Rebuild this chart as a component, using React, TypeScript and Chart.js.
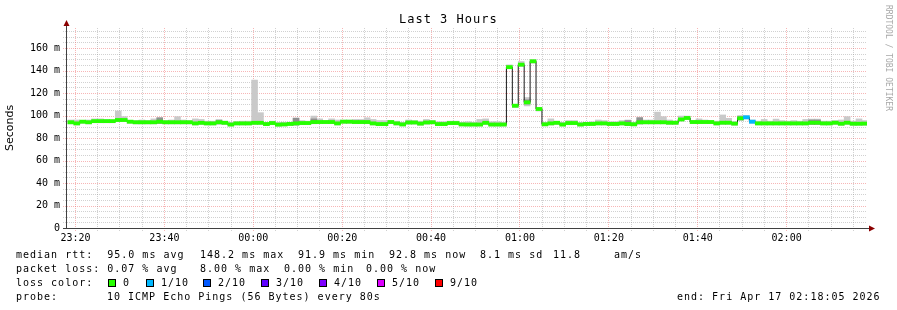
import { useEffect, useRef } from 'react';
import { Chart, registerables } from 'chart.js';

Chart.register(...registerables);

// ---------- texts ----------
const TITLE = 'Last 3 Hours';
const Y_AXIS_TITLE = 'Seconds';
const WATERMARK = 'RRDTOOL / TOBI OETIKER';
const END_TEXT = 'end: Fri Apr 17 02:18:05 2026';

// ---------- time axis ----------
const RANGE_START = '23:18:05';
const RANGE_SECONDS = 3 * 3600;
const STEP_SECONDS = 80;
const FIRST_STEP_OFFSET = 12;
const X_TICK_LABELS = ['23:20', '23:40', '00:00', '00:20', '00:40', '01:00', '01:20', '01:40', '02:00'];
const X_MINOR_SECONDS = 300;

// ---------- value axis (ms) ----------
const Y_MAX_MS = 177.78;
const Y_TICK_VALUES = [0, 20, 40, 60, 80, 100, 120, 140, 160];
const Y_MINOR_STEP = 5;

// ---------- series: median RTT per 80 s step (ms) ----------
const medianRtt = [
  94, 93, 94.5, 94, 95, 95, 95, 95, 96, 96,
  94.5, 94, 94, 94, 94, 94.5, 94, 94, 94, 94,
  94, 93, 93.5, 93, 93, 94, 93.5, 92, 93, 93,
  93, 93.5, 93.5, 92.4, 93.3, 91.9, 92.1, 92.5, 93, 93.3,
  93.3, 94.2, 94.2, 94.2, 94.2, 93, 94.5, 94.5, 94.2, 94.2,
  94.2, 93, 92.4, 92.4, 94.2, 93, 92.1, 93.8, 93.8, 92.8,
  93.8, 94, 92.4, 92.4, 93.3, 93.3, 92.1, 92, 92, 92,
  93.5, 92, 92, 92, 143, 108.7, 145.2, 111.7, 148.2, 105.8,
  92.2, 93, 93.5, 92, 93.3, 93.3, 92, 92.5, 92.5, 93,
  93, 92.5, 92.5, 93, 92.5, 92.2, 94, 94, 94, 94,
  94, 93.6, 93.6, 96.5, 97.8, 94.2, 94.2, 94.2, 94.2, 93,
  93.6, 93.6, 92.8, 97.5, 98.4, 94.5, 93, 93, 93, 93,
  93, 93, 93, 93, 93, 93.6, 93.6, 93, 93, 93.6,
  92.7, 93.6, 92.7, 92.7, 92.8,
];

// smoke: lowest and highest ping of each step (ms)
const smokeMin = [
  92.5, 91.5, 93, 92.5, 93.5, 93.5, 93.5, 93.5, 94.5, 94.5,
  93, 92.5, 92.5, 92.5, 92.5, 93, 92.5, 92.5, 92.5, 92.5,
  92.5, 91.5, 92, 91.5, 91.5, 92.5, 92, 90.5, 91.5, 91.5,
  91.5, 92, 92, 91, 91.8, 90.4, 90.6, 91, 91.5, 91.8,
  91.8, 92.7, 92.7, 92.7, 92.7, 91.5, 93, 93, 92.7, 92.7,
  92.7, 91.5, 90.9, 90.9, 92.7, 91.5, 90.6, 92.3, 92.3, 91.3,
  92.3, 92.5, 90.9, 90.9, 91.8, 91.8, 90.6, 90.5, 90.5, 90.5,
  92, 90.5, 90.5, 90.5, 141.5, 107, 143.5, 108.5, 146.5, 104,
  90.7, 91.5, 92, 90.5, 91.8, 91.8, 90.5, 91, 91, 91.5,
  91.5, 91, 91, 91.5, 91, 90.7, 92.5, 92.5, 92.5, 92.5,
  92.5, 92, 92, 95, 96.3, 92.7, 92.7, 92.7, 92.7, 91.5,
  92, 92, 91.3, 96, 96.9, 93, 91.5, 91.5, 91.5, 91.5,
  91.5, 91.5, 91.5, 91.5, 91.5, 92, 92, 91.5, 91.5, 92,
  91.2, 92, 91.2, 91.2, 91.3,
];
const smokeMax = [
  96, 96, 95.5, 96, 97, 97, 96.5, 96, 104, 99,
  95.5, 95.5, 96, 95.5, 97, 98, 95.5, 96, 99, 96,
  95.5, 97, 96.5, 95, 95, 96.5, 95, 94, 94.5, 95,
  95, 131.5, 102.5, 94, 95, 94, 94, 94, 98, 95.5,
  95, 99.5, 97, 95.5, 97, 96, 96, 96, 96.5, 96.5,
  98, 96.5, 95.5, 95.5, 95.5, 95, 94, 96, 95.5, 95,
  96.5, 95.5, 94.5, 94.5, 95, 95, 94, 94.5, 94, 96.5,
  97, 94.5, 94.5, 94, 145, 110, 148, 116, 149.5, 107,
  94, 97, 95, 94, 95.5, 95.5, 94, 94, 94.5, 96,
  95.5, 94.5, 94.5, 95.5, 96, 94, 98.5, 96, 96, 103,
  99, 96, 95, 99.5, 99.5, 95.5, 97, 96, 95.5, 95,
  100.5, 97.5, 94.5, 100, 100, 96, 95, 96.5, 95, 96.8,
  95.5, 95, 95.5, 95, 96.5, 96.8, 96.8, 95, 95, 95.5,
  96, 99, 95, 97, 95.5,
];
// darker (denser) smoke near the median, only where it shows
const smokeDarkStep = [15, 25, 38, 41, 77, 94, 96, 113, 125, 126];
const smokeDarkTop = [98, 95.5, 97.5, 97, 114, 95.5, 98, 99, 96, 96];

// packet loss (tenths) for the steps that lost packets
const lossStep = [114, 115];
const lossTenths = [1, 1];

// loss colour legend
const LOSS_LEVELS = [0, 1, 2, 3, 4, 5, 9];
const LOSS_LABELS = ['0', '1/10', '2/10', '3/10', '4/10', '5/10', '9/10'];
const LOSS_COLORS = ['#26ff00', '#00b8ff', '#0059ff', '#5e00ff', '#7e00ff', '#dd00ff', '#ff0000'];

// statistics text
const RTT_ITEMS = ['median rtt:  95.0 ms avg', '148.2 ms max', '91.9 ms min', '92.8 ms now', '8.1 ms sd', '11.8', 'am/s'];
const LOSS_ITEMS = ['packet loss: 0.07 % avg', '8.00 % max', '0.00 % min', '0.00 % now'];
const LOSS_COLOR_TITLE = 'loss color:';
const PROBE_ITEMS = ['probe:', '10 ICMP Echo Pings (56 Bytes) every 80s'];

// ---------- layout / style (not data) ----------
const W = 897;
const H = 310;
const RTT_X = [16, 200, 298, 389, 480, 553, 614];
const LOSS_X = [16, 200, 284, 366];
const PROBE_X = [16, 107];
const SQUARE_X = [108, 146, 203, 261, 319, 377, 435];
const LINE_Y = [258, 272, 286, 300];
const MONO = '"DejaVu Sans Mono", monospace';

const toSec = (t: string) => {
  const [h, m, s = '0'] = t.split(':');
  return Number(h) * 3600 + Number(m) * 60 + Number(s);
};
const START_SEC = toSec(RANGE_START);
const sinceStart = (t: string) => (toSec(t) - START_SEC + 86400) % 86400;
const xTickValues = X_TICK_LABELS.map(sinceStart);
const stepCenter = (k: number) => FIRST_STEP_OFFSET + STEP_SECONDS * k + STEP_SECONDS / 2;
const lossColorOf = (k: number) => {
  const i = lossStep.indexOf(k);
  const level = i >= 0 ? lossTenths[i] : 0;
  return LOSS_COLORS[LOSS_LEVELS.indexOf(level)];
};

const gridPlugin = {
  id: 'rrdGrid',
  beforeDatasetsDraw(chart: any) {
    const { ctx, chartArea, scales } = chart;
    const { left, right, top, bottom } = chartArea;
    const x = scales.x;
    const y = scales.y;
    ctx.save();
    ctx.lineWidth = 1;
    ctx.setLineDash([1, 1]);
    const minor = 'rgba(140,140,140,0.4)';
    const major = 'rgba(240,110,110,0.5)';
    for (let v = Y_MINOR_STEP; v <= Y_MAX_MS; v += Y_MINOR_STEP) {
      const py = Math.round(y.getPixelForValue(v)) + 0.5;
      ctx.strokeStyle = v % 20 === 0 ? major : minor;
      ctx.beginPath();
      ctx.moveTo(left - 4, py);
      ctx.lineTo(right, py);
      ctx.stroke();
    }
    const first = xTickValues[0] % X_MINOR_SECONDS;
    for (let t = first; t <= RANGE_SECONDS; t += X_MINOR_SECONDS) {
      const px = Math.floor(x.getPixelForValue(t)) + 0.5;
      const isMajor = xTickValues.includes(t);
      ctx.strokeStyle = isMajor ? major : minor;
      ctx.beginPath();
      ctx.moveTo(px, top);
      ctx.lineTo(px, bottom + 3);
      ctx.stroke();
    }
    ctx.restore();
  },
};

const textPlugin = {
  id: 'rrdText',
  afterDraw(chart: any) {
    const { ctx, chartArea } = chart;
    const { left, right, top, bottom } = chartArea;
    ctx.save();
    ctx.setLineDash([]);
    ctx.strokeStyle = '#404040';
    ctx.lineWidth = 1;
    ctx.beginPath();
    ctx.moveTo(left - 0.5, bottom + 1);
    ctx.lineTo(left - 0.5, top - 2);
    ctx.moveTo(left - 4, bottom + 0.5);
    ctx.lineTo(right + 2, bottom + 0.5);
    ctx.stroke();
    ctx.fillStyle = '#8b0000';
    ctx.beginPath();
    ctx.moveTo(left - 0.5, top - 8);
    ctx.lineTo(left - 3.5, top - 2);
    ctx.lineTo(left + 2.5, top - 2);
    ctx.closePath();
    ctx.fill();
    ctx.beginPath();
    ctx.moveTo(right + 8, bottom + 0.5);
    ctx.lineTo(right + 2, bottom - 2.5);
    ctx.lineTo(right + 2, bottom + 3.5);
    ctx.closePath();
    ctx.fill();

    ctx.fillStyle = '#000';
    try { (ctx as any).letterSpacing = '1px'; } catch (e) { /* ignore */ }
    ctx.font = `12px ${MONO}`;
    ctx.textAlign = 'left';
    ctx.textBaseline = 'alphabetic';
    ctx.fillText(TITLE, 399, 23);

    ctx.font = `10px ${MONO}`;
    RTT_ITEMS.forEach((s, i) => ctx.fillText(s, RTT_X[i], LINE_Y[0]));
    LOSS_ITEMS.forEach((s, i) => ctx.fillText(s, LOSS_X[i], LINE_Y[1]));
    ctx.fillText(LOSS_COLOR_TITLE, 16, LINE_Y[2]);
    LOSS_LABELS.forEach((s, i) => {
      ctx.fillStyle = LOSS_COLORS[i];
      ctx.fillRect(SQUARE_X[i], LINE_Y[2] - 7, 8, 8);
      ctx.strokeStyle = '#000';
      ctx.strokeRect(SQUARE_X[i] + 0.5, LINE_Y[2] - 6.5, 7, 7);
      ctx.fillStyle = '#000';
      ctx.fillText(s, SQUARE_X[i] + 15, LINE_Y[2]);
    });
    PROBE_ITEMS.forEach((s, i) => ctx.fillText(s, PROBE_X[i], LINE_Y[3]));
    ctx.fillText(END_TEXT, 677, LINE_Y[3]);

    try { (ctx as any).letterSpacing = '0px'; } catch (e) { /* ignore */ }
    ctx.translate(888, 5);
    ctx.rotate(Math.PI / 2);
    ctx.font = `8px ${MONO}`;
    ctx.fillStyle = '#a8a8a8';
    ctx.textBaseline = 'middle';
    ctx.fillText(WATERMARK, 0, 0);
    ctx.restore();
  },
};

export default function App() {
  const ref = useRef<HTMLCanvasElement | null>(null);

  useEffect(() => {
    const canvas = ref.current;
    if (!canvas) return;
    const barCommon = {
      type: 'bar' as const,
      grouped: false,
      barPercentage: 1,
      categoryPercentage: 1,
      borderWidth: 0,
    };
    const chart = new Chart(canvas, {
      type: 'bar',
      data: {
        datasets: [
          {
            ...barCommon,
            label: 'smoke',
            data: medianRtt.map((_, k) => ({ x: stepCenter(k), y: [smokeMin[k], smokeMax[k]] })),
            backgroundColor: '#c9c9c9',
            order: 5,
          },
          {
            ...barCommon,
            label: 'smoke dense',
            data: smokeDarkStep.map((k, i) => ({ x: stepCenter(k), y: [medianRtt[k] - 1.5, smokeDarkTop[i]] })),
            backgroundColor: '#909090',
            order: 4,
          },
          {
            type: 'line' as const,
            label: 'median',
            data: medianRtt.map((m, k) => ({ x: stepCenter(k), y: m })),
            borderColor: '#1a1a1a',
            borderWidth: 1,
            stepped: 'middle',
            pointRadius: 0,
            fill: false,
            order: 3,
          },
          {
            ...barCommon,
            label: 'loss',
            data: medianRtt.map((m, k) => ({ x: stepCenter(k), y: [m - 1.4, m + 1.4] })),
            backgroundColor: medianRtt.map((_, k) => lossColorOf(k)),
            order: 2,
          },
        ] as any,
      },
      options: {
        animation: false,
        responsive: false,
        maintainAspectRatio: false,
        events: [],
        layout: { padding: { top: 28, right: 30, left: 0, bottom: 0 } },
        plugins: {
          legend: { display: false },
          tooltip: { enabled: false },
          title: { display: false },
        },
        scales: {
          x: {
            type: 'linear',
            min: 0,
            max: RANGE_SECONDS,
            offset: false,
            grid: { display: false, drawTicks: false },
            border: { display: false },
            afterFit: (s: any) => { s.height = 82; },
            afterBuildTicks: (s: any) => { s.ticks = xTickValues.map((value) => ({ value })); },
            ticks: {
              autoSkip: false,
              maxRotation: 0,
              padding: 4,
              color: '#000',
              font: { family: 'DejaVu Sans Mono', size: 10 },
              callback: (v: any) => X_TICK_LABELS[xTickValues.indexOf(Number(v))] ?? '',
            },
          },
          y: {
            type: 'linear',
            min: 0,
            max: Y_MAX_MS,
            grid: { display: false, drawTicks: false },
            border: { display: false },
            afterFit: (s: any) => { s.width = 67; },
            afterBuildTicks: (s: any) => { s.ticks = Y_TICK_VALUES.map((value) => ({ value })); },
            ticks: {
              padding: 7,
              color: '#000',
              font: { family: 'DejaVu Sans Mono', size: 10 },
              callback: (v: any) => (Number(v) === 0 ? '0' : `${v} m`),
            },
            title: {
              display: true,
              text: Y_AXIS_TITLE,
              color: '#000',
              font: { family: 'DejaVu Sans', size: 11 },
              padding: { top: 4, bottom: 0 },
            },
          },
        },
      } as any,
      plugins: [gridPlugin, textPlugin],
    });
    return () => chart.destroy();
  }, []);

  return (
    <div style={{ position: 'absolute', left: 0, top: 0, width: W, height: H, background: '#fff' }}>
      <canvas ref={ref} width={W} height={H} style={{ display: 'block', width: W, height: H }} />
    </div>
  );
}
